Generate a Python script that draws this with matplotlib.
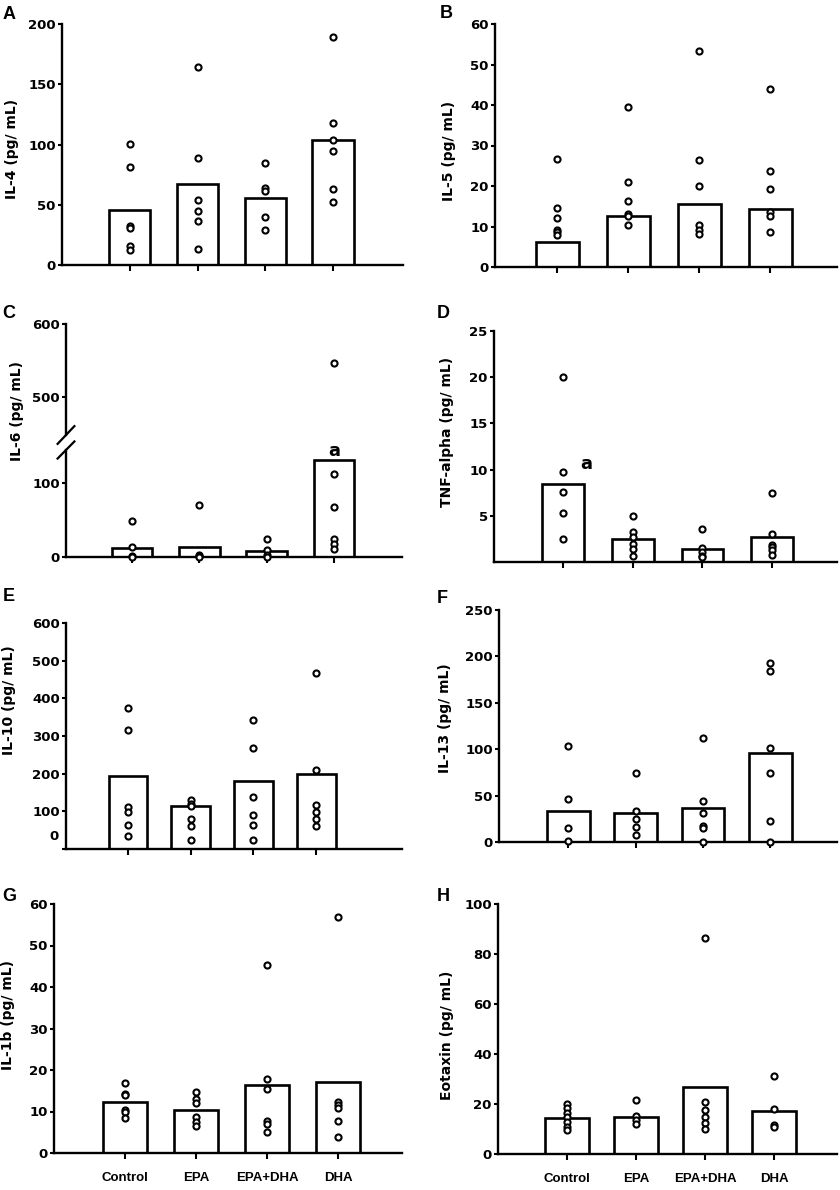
import matplotlib.pyplot as plt
import numpy as np

plt.rcParams['font.family'] = ['DejaVu Sans']
plt.rcParams['font.weight'] = 'bold'

groups = ['Control', 'EPA', 'EPA+DHA', 'DHA']

# bar = group value, pts = single animals (pg/mL)
il4_bar = [45.8, 67.3, 56.0, 103.7]
il4_pts = [[100.4, 81.4, 32.3, 30.6, 15.7, 12.4],
           [164.7, 88.6, 54.3, 45.2, 36.7, 13.2],
           [84.7, 63.7, 61.0, 40.0, 29.2],
           [189.0, 117.5, 103.7, 94.6, 63.4, 52.4]]

il5_bar = [6.2, 12.7, 15.5, 14.4]
il5_pts = [[26.6, 14.5, 12.0, 9.2, 8.6, 7.9],
           [39.6, 21.0, 16.4, 13.1, 12.5, 10.4],
           [53.4, 26.4, 20.1, 10.4, 9.2, 8.1],
           [44.0, 23.7, 19.2, 13.7, 12.5, 8.7]]

il6_bar = [12.0, 13.6, 8.6, 131.0]
il6_pts = [[48.6, 13.6, 2.0, 0.5],
           [71.0, 3.0, 1.0, 0.5],
           [24.0, 9.0, 3.0, 0.5],
           [547.0, 112.0, 68.0, 25.0, 18.0, 11.0]]

tnf_bar = [8.4, 2.5, 1.4, 2.7]
tnf_pts = [[20.0, 9.7, 7.6, 5.3, 2.5],
           [5.0, 3.3, 2.7, 2.0, 1.4, 0.6],
           [3.6, 1.5, 1.1, 0.7, 0.5],
           [7.5, 3.0, 1.8, 1.6, 1.3, 0.8]]

il10_bar = [193, 114, 180, 198]
il10_pts = [[375, 317, 111, 98, 63, 34],
            [131, 119, 113, 79, 60, 23],
            [343, 269, 138, 91, 65, 23],
            [467, 211, 117, 98, 79, 60]]

il13_bar = [33.5, 31.0, 37.0, 96.0]
il13_pts = [[103, 46.5, 15, 1.4],
            [74, 33, 25, 16.5, 7.7],
            [112, 44, 31, 17, 15, 0],
            [193, 184, 101, 74, 23, 0]]

il1b_bar = [12.4, 10.4, 16.4, 17.2]
il1b_pts = [[16.8, 14.2, 13.9, 10.4, 10.0, 8.4],
            [14.8, 13.1, 12.0, 8.6, 7.5, 6.4],
            [45.3, 17.8, 15.4, 7.8, 7.0, 5.0],
            [56.8, 12.3, 11.6, 10.8, 7.6, 3.8]]

eot_bar = [14.6, 14.8, 27.0, 17.3]
eot_pts = [[20.0, 18.4, 16.6, 14.8, 12.8, 11.0, 9.5],
           [21.7, 15.4, 13.7, 12.0],
           [86.3, 21.0, 17.7, 15.0, 12.4, 10.1],
           [31.4, 18.1, 11.7, 10.8]]

W, H = 840, 1190
fig = plt.figure(figsize=(8.4, 11.9), dpi=100)


def rect(x0, x1, ytop, ybot):
    # pixel box -> figure fraction
    return [x0 / W, 1 - ybot / H, (x1 - x0) / W, (ybot - ytop) / H]


def style(ax, bottom=True):
    ax.spines['top'].set_visible(False)
    ax.spines['right'].set_visible(False)
    ax.spines['left'].set_linewidth(1.7)
    ax.spines['bottom'].set_linewidth(1.7)
    ax.spines['bottom'].set_visible(bottom)
    ax.tick_params(axis='y', direction='out', length=3, width=1.5, labelsize=9.5, pad=1.5)
    ax.tick_params(axis='x', direction='out', length=4, width=1.5, labelsize=9.5, pad=10)


def panel(ax, bars, pts, xlim, ylim, yticks, bw=0.62, lo=None, hi=None, draw_bars=True):
    x = np.arange(len(groups))
    if draw_bars:
        ax.bar(x, bars, width=bw, color='white', edgecolor='black', linewidth=1.9, zorder=2)
    for i, p in enumerate(pts):
        p = np.array(p, dtype=float)
        if lo is not None:
            p = p[p >= lo]
        if hi is not None:
            p = p[p <= hi]
        ax.plot(np.full(len(p), x[i]), p, 'o', ms=4.4, mfc='white', mec='black',
                mew=1.5, clip_on=False, zorder=3)
    ax.set_xlim(xlim)
    ax.set_ylim(ylim)
    ax.set_yticks(yticks)
    ax.set_xticks(x)
    ax.set_xticklabels([])


# A
axA = fig.add_axes(rect(62, 403, 24, 265))
panel(axA, il4_bar, il4_pts, (-1.0, 4.03), (0, 200), [0, 50, 100, 150, 200], bw=0.61)
style(axA)

# B
axB = fig.add_axes(rect(495, 837, 24, 267))
panel(axB, il5_bar, il5_pts, (-0.88, 3.94), (0, 60), np.arange(0, 61, 10), bw=0.61)
style(axB)

# C (broken axis)
axC = fig.add_axes(rect(66, 402, 450, 557))
panel(axC, il6_bar, il6_pts, (-0.98, 4.01), (0, 145), [0, 100], bw=0.6, hi=145)
style(axC)
axCu = fig.add_axes(rect(66, 402, 324, 435))
panel(axCu, il6_bar, il6_pts, (-0.98, 4.01), (448, 600), [500, 600], lo=448, draw_bars=False)
style(axCu, bottom=False)
axCu.tick_params(axis='x', length=0)
axC.text(3, 143, 'a', ha='center', va='center', fontsize=13, clip_on=False)
# break marks
for a, yy in [(axCu, 0.0), (axC, 1.0)]:
    dx, dy = 0.025, 0.08
    a.plot([-dx, dx], [yy - dy, yy + dy], transform=a.transAxes, color='black',
           lw=1.6, clip_on=False)

# D
axD = fig.add_axes(rect(494, 837, 331, 562))
panel(axD, tnf_bar, tnf_pts, (-0.99, 3.93), (0, 25), [5, 10, 15, 20, 25], bw=0.6)
style(axD)
axD.text(0.33, 10.6, 'a', ha='center', va='center', fontsize=13)

# E
axE = fig.add_axes(rect(66, 402, 623, 849))
panel(axE, il10_bar, il10_pts, (-0.99, 4.37), (0, 600), np.arange(0, 601, 100), bw=0.62)
style(axE)
axE.set_yticklabels([''] + [str(v) for v in range(100, 601, 100)])
axE.annotate('0', xy=(0, 0), xycoords=('axes fraction', 'data'), xytext=(-5, 9),
             textcoords='offset points', ha='right', va='center', fontsize=9.5)

# F
axF = fig.add_axes(rect(499, 837, 610, 842))
panel(axF, il13_bar, il13_pts, (-1.03, 3.99), (0, 250), np.arange(0, 251, 50), bw=0.63)
style(axF)

# G
axG = fig.add_axes(rect(54, 402, 904, 1153))
panel(axG, il1b_bar, il1b_pts, (-1.0, 3.9), (0, 60), np.arange(0, 61, 10), bw=0.63)
style(axG)
axG.set_xticklabels(groups, fontfamily='Liberation Sans', fontsize=9.5)

# H
axH = fig.add_axes(rect(498, 837, 904, 1154))
panel(axH, eot_bar, eot_pts, (-1.0, 3.91), (0, 100), np.arange(0, 101, 20), bw=0.63)
style(axH)
axH.set_xticklabels(groups, fontfamily='Liberation Sans', fontsize=9.5)

# y labels
ylabels = [('IL-4 (pg/ mL)', 12, 149), ('IL-5 (pg/ mL)', 449, 151),
           ('IL-6 (pg/ mL)', 17, 411), ('TNF-alpha (pg/ mL)', 447, 432),
           ('IL-10 (pg/ mL)', 9, 700), ('IL-13 (pg/ mL)', 445, 718),
           ('IL-1b (pg/ mL)', 8, 1015), ('Eotaxin (pg/ mL)', 447, 1035)]
for txt, px, py in ylabels:
    fig.text(px / W, 1 - py / H, txt, rotation=90, ha='center', va='center', fontsize=10)

# panel letters
letters = [('A', 3, 6), ('B', 440, 5), ('C', 2, 305), ('D', 437, 305),
           ('E', 3, 588), ('F', 437, 590), ('G', 2, 888), ('H', 437, 888)]
for L, px, py in letters:
    fig.text(px / W, 1 - py / H, L, ha='left', va='top', fontsize=13,
             fontfamily='Liberation Sans', fontweight='bold')

fig.savefig('out.png', dpi=100)
